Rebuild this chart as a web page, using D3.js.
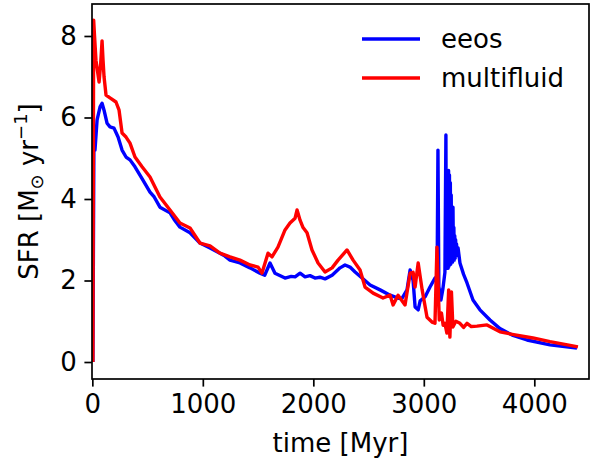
<html>
    <head>
        <title>SFR eeos vs multifluid</title>
        <script src="https://cdn.jsdelivr.net/npm/d3@7"></script>
    </head>
    <body style="margin:0">
        <svg width="612" height="464"></svg>

        <style>
            text { font-family: "DejaVu Sans", sans-serif; font-size: 26px; fill: #000; }
            .axis path, .axis line { stroke: #000; stroke-width: 1.7px; }
            .sfr { fill: none; stroke-width: 3.4px; stroke-linejoin: round; }
        </style>
        <script>

            // Data (time in Myr, SFR in Msun/yr)
            var timeEeos = [5, 14, 24, 43, 70, 88, 106, 133, 160, 196, 233, 269, 305, 341, 386, 450, 522, 560, 612, 703, 740, 793, 884, 974, 1065, 1155, 1200, 1246, 1336, 1427, 1517, 1560, 1608, 1653, 1744, 1800, 1835, 1880, 1925, 1970, 2015, 2060, 2106, 2170, 2242, 2287, 2332, 2378, 2441, 2514, 2604, 2695, 2767, 2800, 2848, 2876, 2903, 2921, 2949, 2967, 3012, 3056, 3101, 3120, 3128, 3136, 3155, 3173, 3191,
                3200, 3204, 3208, 3212, 3216, 3220, 3224, 3228, 3232, 3236, 3240, 3244, 3248, 3252, 3256, 3260, 3264, 3268, 3272, 3276, 3280, 3284, 3288, 3292, 3296, 3300, 3310,
                3327, 3360, 3391, 3445, 3508, 3599, 3689, 3800, 3934, 4142, 4386];
            var sfrEeos = [0, 5.2, 5.2, 5.94, 6.26, 6.35, 6.18, 5.86, 5.77, 5.74, 5.52, 5.2, 5.03, 4.96, 4.79, 4.5, 4.17, 4.05, 3.8, 3.66, 3.5, 3.31, 3.17, 2.92, 2.8, 2.67, 2.6, 2.5, 2.43, 2.31, 2.18, 2.13, 2.43, 2.18, 2.06, 2.1, 2.09, 2.18, 2.09, 2.12, 2.06, 2.08, 2.04, 2.13, 2.31, 2.38, 2.33, 2.21, 2.06, 1.89, 1.77, 1.64, 1.57, 1.55, 1.77, 2.26, 2.0, 1.35, 1.28, 1.5, 1.6, 1.84, 2.06, 1.95, 5.2, 1.85, 1.52, 1.8, 2.2,
                5.57, 2.3, 3.6, 2.3, 4.0, 2.3, 4.7, 2.35, 4.59, 2.4, 4.4, 2.4, 4.1, 2.45, 3.8, 2.45, 3.8, 2.5, 3.3, 2.5, 3.1, 2.55, 3.0, 2.6, 2.9, 2.7, 2.8,
                2.43, 2.15, 1.94, 1.52, 1.28, 1.03, 0.82, 0.66, 0.54, 0.42, 0.34];

            var timeMulti = [5, 12, 20, 33, 61, 75, 88, 97, 106, 124, 160, 214, 242, 269, 305, 341, 386, 450, 522, 612, 703, 793, 884, 974, 1065, 1155, 1246, 1336, 1427, 1500, 1535, 1590, 1626, 1680, 1744, 1789, 1835, 1853, 1880, 1907, 1943, 1988, 2043, 2106, 2170, 2224, 2305, 2360, 2423, 2468, 2541, 2631, 2695, 2722, 2767, 2830, 2876, 2903, 2921, 2949, 2985, 3029, 3074, 3101, 3119, 3140, 3160, 3175, 3191, 3209, 3225, 3236, 3250, 3263, 3290, 3327, 3360, 3391, 3430, 3481, 3572, 3689, 3800, 3988, 4142, 4300, 4395];
            var sfrMulti = [0, 8.39, 8.0, 7.4, 6.87, 7.3, 7.88, 7.4, 7.0, 6.55, 6.48, 6.38, 6.18, 5.62, 5.52, 5.37, 5.03, 4.79, 4.54, 4.05, 3.73, 3.41, 3.29, 2.92, 2.85, 2.67, 2.58, 2.5, 2.38, 2.33, 2.18, 2.67, 2.58, 2.82, 3.24, 3.41, 3.53, 3.73, 3.48, 3.3, 3.17, 2.75, 2.43, 2.21, 2.31, 2.5, 2.75, 2.5, 2.26, 1.84, 1.69, 1.57, 1.64, 1.4, 1.64, 1.4, 2.18, 2.2, 1.84, 2.43, 1.77, 1.1, 0.98, 0.95, 2.82, 1.03, 1.2, 0.9, 0.95, 0.71, 1.77, 0.61, 1.72, 0.86, 1.0, 0.95, 0.85, 0.95, 0.87, 0.88, 0.91, 0.74, 0.68, 0.59, 0.5, 0.42, 0.37];

            var xTicks = [0, 1000, 2000, 3000, 4000];
            var yTicks = [0, 2, 4, 6, 8];
            var seriesNames = ["eeos", "multifluid"];
            var seriesColors = ["#0000ff", "#ff0000"];

            var svg = d3.select("svg"),
                plotLeft = 92, plotRight = 589, plotTop = 4, plotBottom = 379;

            var x = d3.scaleLinear().domain([-3, 4495]).range([plotLeft, plotRight]),
                y = d3.scaleLinear().domain([-0.417, 8.785]).range([plotBottom, plotTop]);

            svg.append("rect").attr("width", 612).attr("height", 464).attr("fill", "#fff");

            svg.append("clipPath").attr("id", "plot")
                .append("rect").attr("x", plotLeft).attr("y", plotTop)
                .attr("width", plotRight - plotLeft).attr("height", plotBottom - plotTop);

            // Curves: eeos underneath, multifluid on top
            var line = d3.line()
                .x(function(d) { return x(d[0]); })
                .y(function(d) { return y(d[1]); });

            var series = [d3.zip(timeEeos, sfrEeos), d3.zip(timeMulti, sfrMulti)];

            svg.append("g").attr("clip-path", "url(#plot)")
                .selectAll("path")
                .data(series)
                .enter().append("path")
                    .attr("class", "sfr")
                    .attr("stroke", function(d, i) { return seriesColors[i]; })
                    .attr("d", line);

            // Axes
            svg.append("g")
                .attr("class", "axis")
                .attr("transform", "translate(0," + plotBottom + ")")
                .call(d3.axisBottom(x).tickValues(xTicks).tickSize(7.6).tickPadding(7.6).tickFormat(d3.format("d")));

            svg.append("g")
                .attr("class", "axis")
                .attr("transform", "translate(" + plotLeft + ",0)")
                .call(d3.axisLeft(y).tickValues(yTicks).tickSize(7.6).tickPadding(7.6));

            svg.selectAll(".axis text").style("font-size", "26px").style("font-family", "'DejaVu Sans', sans-serif");
            svg.selectAll(".axis .domain").remove();

            // Frame
            svg.append("rect")
                .attr("x", plotLeft).attr("y", plotTop)
                .attr("width", plotRight - plotLeft).attr("height", plotBottom - plotTop)
                .attr("fill", "none").attr("stroke", "#000").attr("stroke-width", 1.7);

            // Labels
            svg.append("text")
                .attr("x", (plotLeft + plotRight) / 2).attr("y", 452)
                .attr("text-anchor", "middle")
                .text("time [Myr]");

            var ylab = svg.append("text")
                .attr("transform", "translate(38," + ((plotTop + plotBottom) / 2) + ") rotate(-90)")
                .attr("text-anchor", "middle");
            ylab.append("tspan").text("SFR [M");
            ylab.append("tspan").attr("dy", 5).style("font-size", "18px").text("\u2299");
            ylab.append("tspan").attr("dy", -5).text(" yr");
            ylab.append("tspan").attr("dy", -11).style("font-size", "18px").text("\u22121");
            ylab.append("tspan").attr("dy", 11).text("]");

            // Legend
            var legend = svg.append("g").selectAll("g")
                .data(seriesNames)
                .enter().append("g")
                    .attr("transform", function(d, i) { return "translate(362," + (39 + i * 39) + ")"; });

            legend.append("line")
                .attr("x1", 0).attr("x2", 58)
                .attr("stroke", function(d, i) { return seriesColors[i]; })
                .attr("stroke-width", 3.4);

            legend.append("text")
                .attr("x", 79).attr("y", 9)
                .text(function(d) { return d; });

        </script>
    </body>
</html>
